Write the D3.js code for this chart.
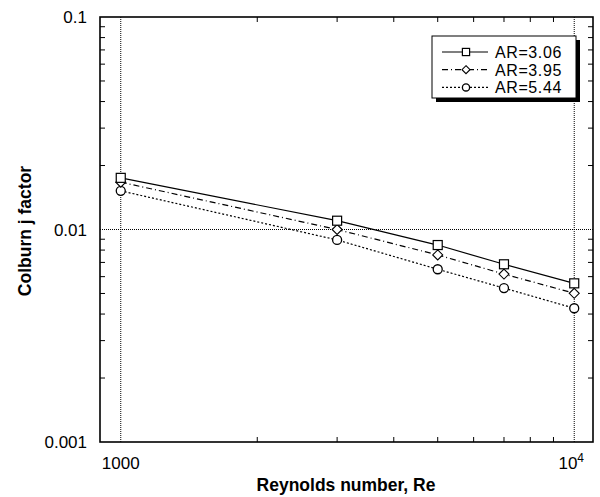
<!DOCTYPE html>
<html><head><meta charset="utf-8">
<script src="https://cdn.jsdelivr.net/npm/d3@7"></script>
<style>body{margin:0;background:#fff}svg{display:block}text{font-family:"Liberation Sans",Arial,sans-serif}</style>
</head><body><svg id="c" width="600" height="497"></svg>
<script>
const reynolds = [1000, 3000, 5000, 7000, 10000];
const ar306 = [0.0175, 0.0110, 0.00845, 0.00686, 0.00558];
const ar395 = [0.0167, 0.0100, 0.00759, 0.00617, 0.00501];
const ar544 = [0.0152, 0.00893, 0.00650, 0.00530, 0.00426];
const seriesNames = ["AR=3.06", "AR=3.95", "AR=5.44"];
const yTickLabels = ["0.1", "0.01", "0.001"];

const svg = d3.select("#c");
const L = 100, R = 593, T = 17, B = 442;
const x = d3.scaleLog().domain([900, 11000]).range([L, R]);
const y = d3.scaleLog().domain([0.001, 0.1]).range([B, T]);

// gridlines
const g = svg.append("g");
[1000, 10000].forEach(v => g.append("line").attr("x1", x(v)).attr("x2", x(v)).attr("y1", T).attr("y2", B)
  .attr("stroke", "#000").attr("stroke-width", 1).attr("stroke-dasharray", "1,1"));
g.append("line").attr("x1", L).attr("x2", R).attr("y1", y(0.01)).attr("y2", y(0.01))
  .attr("stroke", "#000").attr("stroke-width", 1).attr("stroke-dasharray", "1,1");

// minor ticks
const xMinor = [2000,3000,4000,5000,6000,7000,8000,9000];
const yMinor = [];
[0.001, 0.01].forEach(d => { for (let k = 2; k <= 9; k++) yMinor.push(d * k); });
const tl = 5;
xMinor.forEach(v => {
  g.append("line").attr("x1", x(v)).attr("x2", x(v)).attr("y1", B).attr("y2", B - tl).attr("stroke", "#000");
  g.append("line").attr("x1", x(v)).attr("x2", x(v)).attr("y1", T).attr("y2", T + tl).attr("stroke", "#000");
});
yMinor.forEach(v => {
  g.append("line").attr("x1", L).attr("x2", L + tl).attr("y1", y(v)).attr("y2", y(v)).attr("stroke", "#000");
  g.append("line").attr("x1", R).attr("x2", R - tl).attr("y1", y(v)).attr("y2", y(v)).attr("stroke", "#000");
});

// frame
svg.append("rect").attr("x", L).attr("y", T).attr("width", R - L).attr("height", B - T)
  .attr("fill", "none").attr("stroke", "#000").attr("stroke-width", 1.6);

// tick labels
[0.1, 0.01, 0.001].forEach((v, i) => svg.append("text").attr("x", 87).attr("y", y(v) + 6)
  .attr("text-anchor", "end").attr("font-size", 17).text(yTickLabels[i]));
svg.append("text").attr("x", x(1000)).attr("y", 469).attr("text-anchor", "middle").attr("font-size", 17).text("1000");
const t4 = svg.append("text").attr("x", x(10000) - 3).attr("y", 469).attr("text-anchor", "middle").attr("font-size", 17);
t4.append("tspan").text("10");
t4.append("tspan").attr("dy", -7).attr("font-size", 12).text("4");

// axis titles
svg.append("text").attr("x", 346).attr("y", 491).attr("text-anchor", "middle").attr("font-size", 17.5)
  .attr("font-weight", "bold").text("Reynolds number, Re");
svg.append("text").attr("transform", "translate(31,231) rotate(-90)").attr("text-anchor", "middle")
  .attr("font-size", 17.5).attr("font-weight", "bold").text("Colburn j factor");

// series
const series = [
  {name: seriesNames[0], vals: ar306, dash: null, marker: "square"},
  {name: seriesNames[1], vals: ar395, dash: "6,3,1,3", marker: "diamond"},
  {name: seriesNames[2], vals: ar544, dash: "2,2", marker: "circle"}
];
const line = d3.line().x(d => x(d[0])).y(d => y(d[1]));
function drawMarker(sel, type, cx, cy, s) {
  s = s || 1;
  if (type === "square") sel.append("rect").attr("x", cx - 4.5*s).attr("y", cy - 4.5*s).attr("width", 9*s).attr("height", 9*s)
    .attr("fill", "#fff").attr("stroke", "#000").attr("stroke-width", 1.2);
  else if (type === "diamond") sel.append("path").attr("d", `M${cx},${cy-5*s}L${cx+5*s},${cy}L${cx},${cy+5*s}L${cx-5*s},${cy}Z`)
    .attr("fill", "#fff").attr("stroke", "#000").attr("stroke-width", 1.1);
  else sel.append("circle").attr("cx", cx).attr("cy", cy).attr("r", 4.5*s)
    .attr("fill", "#fff").attr("stroke", "#000").attr("stroke-width", 1.3);
}
series.forEach(s => {
  const pts = reynolds.map((r, i) => [r, s.vals[i]]);
  svg.append("path").attr("d", line(pts)).attr("fill", "none").attr("stroke", "#000").attr("stroke-width", 1.2)
    .attr("stroke-dasharray", s.dash);
});
[2, 1, 0].forEach(k => {
  const s = series[k];
  const mg = svg.append("g");
  reynolds.forEach((r, i) => drawMarker(mg, s.marker, x(r), y(s.vals[i])));
});

// legend
const lx = 432, ly = 36, lw = 144, lh = 62;
svg.append("rect").attr("x", lx + 4).attr("y", ly + 4).attr("width", lw).attr("height", lh).attr("fill", "#000");
svg.append("rect").attr("x", lx).attr("y", ly).attr("width", lw).attr("height", lh).attr("fill", "#fff")
  .attr("stroke", "#000").attr("stroke-width", 1);
series.forEach((s, i) => {
  const yy = ly + 16 + i * 17.7;
  svg.append("line").attr("x1", 442).attr("x2", 488).attr("y1", yy).attr("y2", yy).attr("stroke", "#000")
    .attr("stroke-width", 1.2).attr("stroke-dasharray", s.dash);
  drawMarker(svg, s.marker, 466, yy, 0.8);
  svg.append("text").attr("x", 495).attr("y", yy + 6).attr("font-size", 16).attr("letter-spacing", 0.6).text(s.name);
});
</script></body></html>
